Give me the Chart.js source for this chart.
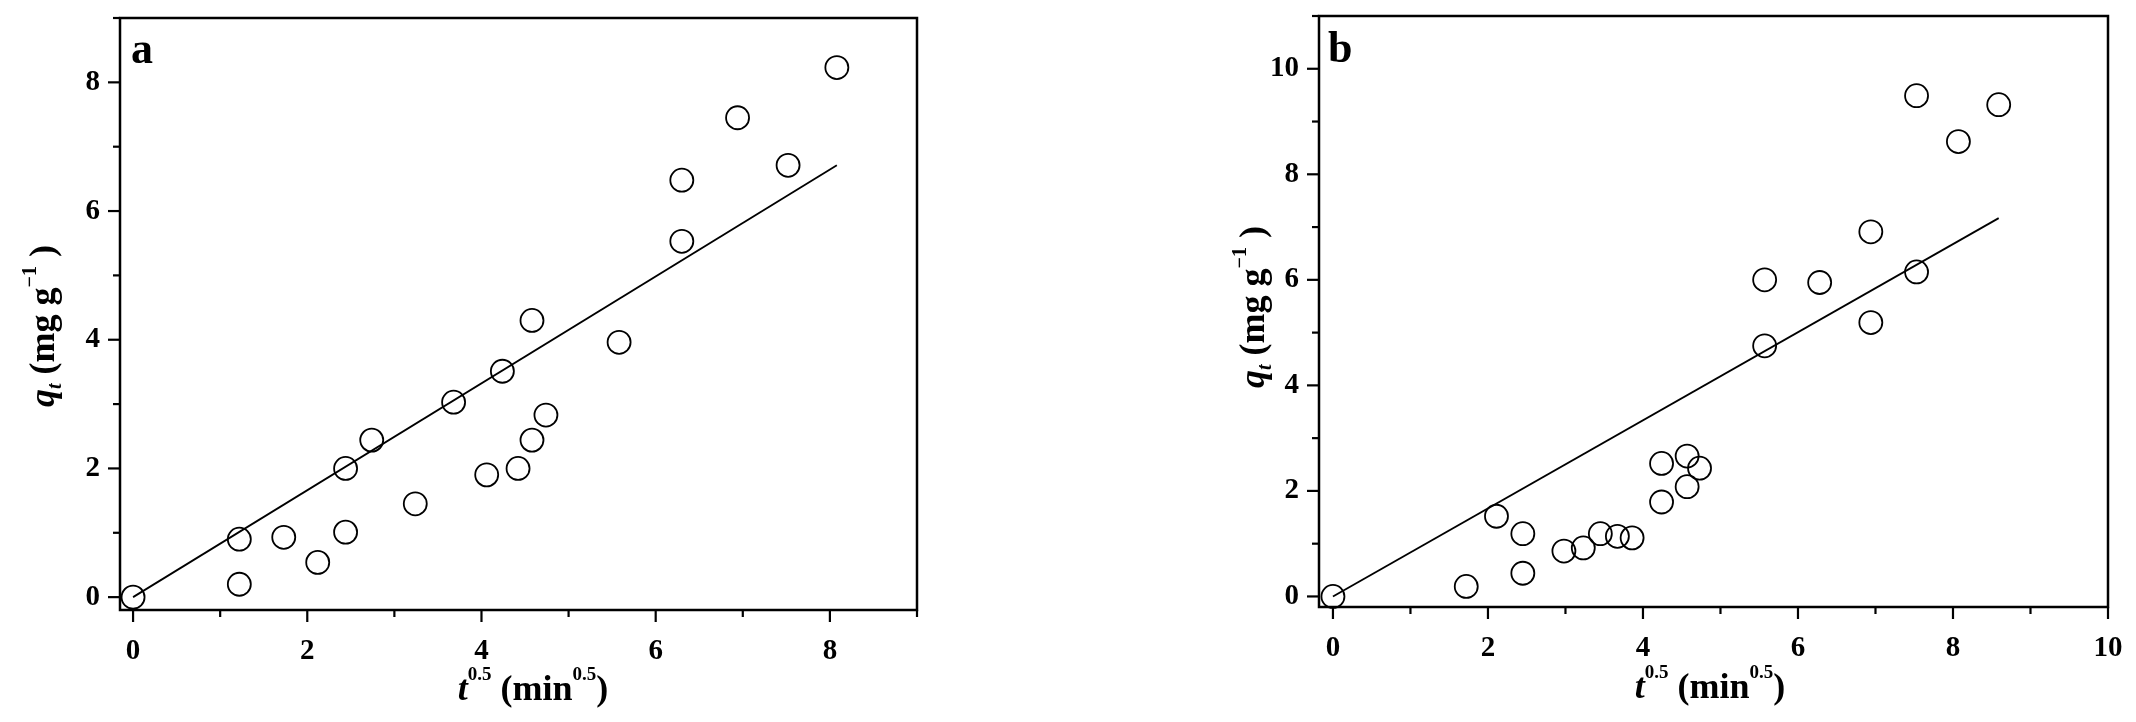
<!DOCTYPE html>
<html>
<head>
<meta charset="utf-8">
<script src="https://cdn.jsdelivr.net/npm/chart.js@4.4.1/dist/chart.umd.min.js"></script>
<style>
  html, body { margin: 0; padding: 0; background: #fff; }
  #wrap { position: relative; width: 2136px; height: 722px; overflow: hidden; }
  .pane { position: absolute; top: 0; width: 1068px; height: 722px; }
</style>
</head>
<body>
<div id="wrap">
  <div class="pane" style="left:0"><canvas id="chartA" width="1068" height="722"></canvas></div>
  <div class="pane" style="left:1068px"><canvas id="chartB" width="1068" height="722"></canvas></div>
</div>
<script>
// panel a : measured points (t^0.5, qt)
const xA = [0, 1.22, 1.22, 1.73, 2.12, 2.44, 2.44, 2.74, 3.24, 3.68, 4.06, 4.24, 4.42, 4.58, 4.58, 4.74, 5.58, 6.30, 6.30, 6.94, 7.52, 8.08];
const yA = [0, 0.90, 0.20, 0.93, 0.54, 2.00, 1.01, 2.44, 1.45, 3.03, 1.90, 3.51, 2.00, 4.30, 2.44, 2.83, 3.96, 5.53, 6.48, 7.45, 6.71, 8.23];
// panel a : fitted line end points
const fitXA = [0, 8.08];
const fitYA = [0, 6.71];

// panel b
const xB = [0, 1.72, 2.11, 2.45, 2.45, 2.98, 3.23, 3.45, 3.67, 3.86, 4.24, 4.24, 4.57, 4.57, 4.73, 5.57, 5.57, 6.28, 6.94, 6.94, 7.53, 7.53, 8.07, 8.59];
const yB = [0, 0.19, 1.52, 1.19, 0.44, 0.86, 0.92, 1.19, 1.14, 1.11, 2.52, 1.79, 2.66, 2.08, 2.43, 6.00, 4.75, 5.95, 6.91, 5.19, 9.49, 6.15, 8.62, 9.32];
const fitXB = [0, 8.59];
const fitYB = [0, 7.17];

// tick labels
const xTicksA = [0, 2, 4, 6, 8];
const yTicksA = [0, 2, 4, 6, 8];
const xMinorA = [1, 3, 5, 7, 9];
const yMinorA = [1, 3, 5, 7, 9];
const xTicksB = [0, 2, 4, 6, 8, 10];
const yTicksB = [0, 2, 4, 6, 8, 10];
const xMinorB = [1, 3, 5, 7, 9];
const yMinorB = [1, 3, 5, 7, 9, 11];

const SERIF = '"Liberation Serif", "Times New Roman", serif';

function toPoints(xs, ys) {
  return xs.map((x, i) => ({ x: x, y: ys[i] }));
}

function drawRuns(ctx, runs, x, y) {
  let w = 0;
  runs.forEach(r => { ctx.font = r.font; w += ctx.measureText(r.text).width; });
  let cx = x - w / 2;
  runs.forEach(r => {
    ctx.font = r.font;
    ctx.fillText(r.text, cx, y + (r.dy || 0));
    cx += ctx.measureText(r.text).width;
  });
}

const xTitleRuns = [
  { text: 't', font: 'italic bold 36px ' + SERIF },
  { text: '0.5', font: 'bold 19px ' + SERIF, dy: -20 },
  { text: ' (min', font: 'bold 36px ' + SERIF },
  { text: '0.5', font: 'bold 19px ' + SERIF, dy: -20 },
  { text: ')', font: 'bold 36px ' + SERIF }
];
const yTitleRuns = [
  { text: 'q', font: 'italic bold 36px ' + SERIF },
  { text: 't', font: 'italic bold 20px ' + SERIF, dy: 7 },
  { text: ' (mg g', font: 'bold 36px ' + SERIF },
  { text: '\u22121', font: 'bold 20px ' + SERIF, dy: -18 },
  { text: ' )', font: 'bold 36px ' + SERIF }
];

// frame, outward ticks, axis titles and panel letter
const framePlugin = {
  id: 'frame',
  afterDraw(chart, args, o) {
    const ctx = chart.ctx;
    const a = chart.chartArea;
    const xs = chart.scales.x, ys = chart.scales.y;
    ctx.save();
    ctx.strokeStyle = '#000';
    ctx.lineWidth = 2.5;
    ctx.strokeRect(a.left, a.top, a.right - a.left, a.bottom - a.top);
    ctx.lineWidth = 2.2;
    const tick = (x1, y1, x2, y2) => { ctx.beginPath(); ctx.moveTo(x1, y1); ctx.lineTo(x2, y2); ctx.stroke(); };
    o.xMajor.forEach(v => { const p = xs.getPixelForValue(v); tick(p, a.bottom, p, a.bottom + 12); });
    o.xMinor.forEach(v => { const p = xs.getPixelForValue(v); tick(p, a.bottom, p, a.bottom + 7); });
    o.yMajor.forEach(v => { const p = ys.getPixelForValue(v); tick(a.left, p, a.left - 12, p); });
    o.yMinor.forEach(v => { const p = ys.getPixelForValue(v); tick(a.left, p, a.left - 7, p); });

    ctx.fillStyle = '#000';
    ctx.textAlign = 'left';
    ctx.textBaseline = 'alphabetic';
    ctx.font = 'bold 44px ' + SERIF;
    ctx.fillText(o.letter, a.left + o.letterDx, o.letterY);

    drawRuns(ctx, xTitleRuns, o.xTitleX, o.xTitleY);

    ctx.save();
    ctx.translate(o.yTitleX, o.yTitleY);
    ctx.rotate(-Math.PI / 2);
    drawRuns(ctx, yTitleRuns, 0, 0);
    ctx.restore();
    ctx.restore();
  }
};

function makeChart(id, p) {
  const tickFont = { family: SERIF, size: 29, weight: 'bold' };
  const chart = new Chart(document.getElementById(id), {
    type: 'scatter',
    data: {
      datasets: [
        {
          data: toPoints(p.xs, p.ys),
          pointStyle: 'circle',
          pointRadius: 11.5,
          pointHoverRadius: 11.5,
          borderColor: '#000',
          backgroundColor: 'rgba(0,0,0,0)',
          borderWidth: 1.8,
          clip: false
        },
        {
          type: 'line',
          data: toPoints(p.fitX, p.fitY),
          borderColor: '#000',
          borderWidth: 1.8,
          pointRadius: 0,
          fill: false
        }
      ]
    },
    options: {
      responsive: false,
      devicePixelRatio: 1,
      animation: false,
      events: [],
      layout: { padding: { left: 0, right: 0, top: 0, bottom: 0 }, autoPadding: false },
      plugins: {
        legend: { display: false },
        tooltip: { enabled: false },
        frame: p.frame
      },
      scales: {
        x: {
          type: 'linear',
          min: p.xMin, max: p.xMax,
          grid: { display: false, drawTicks: false },
          border: { display: false },
          ticks: { font: tickFont, color: '#000', padding: 24, maxRotation: 0 },
          afterBuildTicks: s => { s.ticks = p.xTicks.map(v => ({ value: v })); },
          afterFit: s => { s.height = p.xHeight; s.paddingLeft = 0; s.paddingRight = 0; }
        },
        y: {
          type: 'linear',
          min: p.yMin, max: p.yMax,
          grid: { display: false, drawTicks: false },
          border: { display: false },
          ticks: { font: tickFont, color: '#000', padding: 20 },
          afterBuildTicks: s => { s.ticks = p.yTicks.map(v => ({ value: v })); },
          afterFit: s => { s.width = p.yWidth; s.paddingTop = 0; s.paddingBottom = 0; }
        }
      }
    },
    plugins: [framePlugin]
  });

  // nudge padding / axis sizes until the plot frame sits where the figure has it
  const t = p.area;
  for (let k = 0; k < 4; k++) {
    const a = chart.chartArea;
    const pad = chart.config.options.layout.padding;
    pad.top = Math.max(0, pad.top + (t.top - a.top));
    pad.right = Math.max(0, pad.right + (a.right - t.right));
    p.yWidth += t.left - a.left;
    p.xHeight += a.bottom - t.bottom;
    chart.update();
  }
  return chart;
}

makeChart('chartA', {
  xs: xA, ys: yA, fitX: fitXA, fitY: fitYA,
  xMin: -0.15, xMax: 9, yMin: -0.2, yMax: 9,
  xTicks: xTicksA, yTicks: yTicksA,
  area: { left: 120, top: 18, right: 917, bottom: 610 },
  yWidth: 120, xHeight: 112,
  frame: {
    xMajor: xTicksA, xMinor: xMinorA, yMajor: yTicksA, yMinor: yMinorA,
    letter: 'a', letterDx: 11, letterY: 63,
    xTitleX: 533, xTitleY: 700,
    yTitleX: 54, yTitleY: 326
  }
});

makeChart('chartB', {
  xs: xB, ys: yB, fitX: fitXB, fitY: fitYB,
  xMin: -0.18, xMax: 10, yMin: -0.2, yMax: 11,
  xTicks: xTicksB, yTicks: yTicksB,
  area: { left: 251, top: 16, right: 1040, bottom: 607 },
  yWidth: 251, xHeight: 115,
  frame: {
    xMajor: xTicksB, xMinor: xMinorB, yMajor: yTicksB, yMinor: yMinorB,
    letter: 'b', letterDx: 9, letterY: 62,
    xTitleX: 642, xTitleY: 698,
    yTitleX: 196, yTitleY: 307
  }
});
</script>
</body>
</html>
